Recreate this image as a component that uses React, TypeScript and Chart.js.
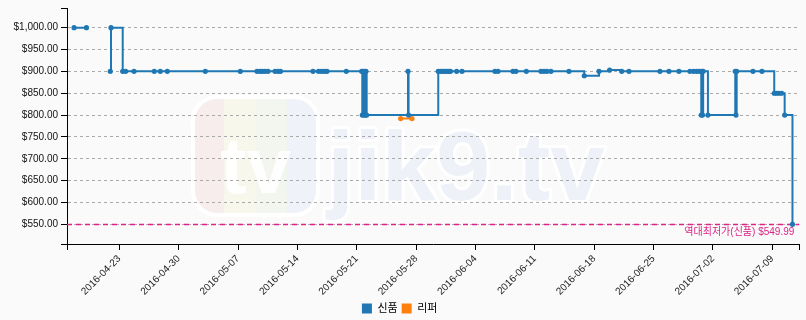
import React, { useEffect, useRef } from "react";
import { Chart, registerables } from "chart.js";

Chart.register(...registerables);

// ---- data ----
const seriesNames = ["신품", "리퍼"];

const newDates = [
  "2016-04-17 16:00", "2016-04-19 03:00", "2016-04-20 12:00",
  "2016-04-21 22:30", "2016-04-22 00:30", "2016-04-23 09:40", "2016-04-23 18:00",
  "2016-04-24 17:35", "2016-04-27 03:00", "2016-04-27 20:00", "2016-04-28 15:50",
  "2016-05-03 03:30", "2016-05-07 06:25", "2016-05-09 05:40", "2016-05-09 14:10",
  "2016-05-09 21:15", "2016-05-10 04:20", "2016-05-10 12:50", "2016-05-11 08:40",
  "2016-05-11 17:10", "2016-05-12 00:10", "2016-05-15 20:10", "2016-05-16 11:45",
  "2016-05-16 20:10", "2016-05-17 04:40", "2016-05-17 11:45", "2016-05-19 18:25",
  "2016-05-21 13:55", "2016-05-21 15:40", "2016-05-21 17:40", "2016-05-21 19:55",
  "2016-05-21 22:05", "2016-05-22 00:25", "2016-05-22 02:10", "2016-05-22 04:05",
  "2016-05-27 01:00", "2016-05-27 02:40", "2016-05-30 14:40", "2016-05-30 21:00",
  "2016-05-31 02:40", "2016-05-31 08:15", "2016-05-31 13:55", "2016-05-31 19:35",
  "2016-06-01 01:15", "2016-06-01 18:45", "2016-06-02 09:50", "2016-06-06 07:10",
  "2016-06-06 15:40", "2016-06-08 10:05", "2016-06-08 18:35", "2016-06-09 23:50",
  "2016-06-11 17:20", "2016-06-12 01:50", "2016-06-12 10:20", "2016-06-12 21:35",
  "2016-06-15 00:30", "2016-06-16 19:50", "2016-06-18 13:30", "2016-06-19 19:40",
  "2016-06-21 05:45", "2016-06-22 02:25", "2016-06-25 18:00", "2016-06-26 19:35",
  "2016-06-27 23:50", "2016-06-29 06:55", "2016-06-29 16:50", "2016-06-30 01:25",
  "2016-06-30 09:50", "2016-06-30 14:55", "2016-06-30 16:35", "2016-06-30 18:25",
  "2016-06-30 20:20", "2016-07-01 09:50", "2016-07-04 15:10", "2016-07-04 17:15",
  "2016-07-04 19:10", "2016-07-06 17:20", "2016-07-07 18:45", "2016-07-09 05:30",
  "2016-07-09 11:45", "2016-07-09 18:45", "2016-07-10 02:25", "2016-07-10 11:00",
  "2016-07-11 09:05",
];

const newPrices: (number | null)[] = [
  999.99, 999.99, null,
  899.99, 999.99, 899.99, 899.99,
  899.99, 899.99, 899.99, 899.99,
  899.99, 899.99, 899.99, 899.99,
  899.99, 899.99, 899.99, 899.99,
  899.99, 899.99, 899.99, 899.99,
  899.99, 899.99, 899.99, 899.99,
  899.99, 799.99, 899.99, 799.99,
  899.99, 799.99, 899.99, 799.99,
  899.99, 799.99, 899.99, 899.99,
  899.99, 899.99, 899.99, 899.99,
  899.99, 899.99, 899.99, 899.99,
  899.99, 899.99, 899.99, 899.99,
  899.99, 899.99, 899.99, 899.99,
  899.99, 889.99, 899.99, 902.99,
  899.99, 899.99, 899.99, 899.99,
  899.99, 899.99, 899.99, 899.99,
  899.99, 799.99, 899.99, 799.99,
  899.99, 799.99, 899.99, 799.99,
  899.99, 899.99, 899.99, 849.99,
  849.99, 849.99, 849.99, 799.99,
  549.99,
];

const refurbDates = ["2016-05-26 04:20", "2016-05-27 12:15"];
const refurbPrices = [791.99, 791.99];

const xTickLabels = [
  "2016-04-23", "2016-04-30", "2016-05-07", "2016-05-14", "2016-05-21", "2016-05-28",
  "2016-06-04", "2016-06-11", "2016-06-18", "2016-06-25", "2016-07-02", "2016-07-09",
];
const yTickValues = [550, 600, 650, 700, 750, 800, 850, 900, 950, 1000];

const X_MIN = "2016-04-16 20:00";
const X_MAX = "2016-07-12 04:25";
const Y_MIN = 505;
const Y_MAX = 1045;

const lowestPrice = 549.99;
const lowestLabel = "역대최저가(신품) $549.99";

// ---- styles ----
const BLUE = "#1f77b4";
const ORANGE = "#ff7f0e";
const PINK = "#dc2488";
const FONT = "'Liberation Sans', 'Noto Sans CJK KR', sans-serif";

function toDays(s: string): number {
  const [d, t = "00:00"] = s.split(" ");
  const [Y, M, D] = d.split("-").map(Number);
  const [h, m] = t.split(":").map(Number);
  return Date.UTC(Y, M - 1, D, h, m) / 86400000;
}
function dayLabel(v: number): string {
  return new Date(Math.round(v * 86400000)).toISOString().slice(0, 10);
}
function money(v: number): string {
  return "$" + v.toLocaleString("en-US", { minimumFractionDigits: 2, maximumFractionDigits: 2 });
}

const xMin = toDays(X_MIN);
const xMax = toDays(X_MAX);
const xTickDays = xTickLabels.map((l) => toDays(l));

const backgroundPlugin = {
  id: "bgWatermark",
  beforeDraw(chart: any) {
    const { ctx, width, height } = chart;
    ctx.save();
    ctx.fillStyle = "#fafafa";
    ctx.fillRect(0, 0, width, height);

    // very faint logo block
    const lx = 193, ly = 97, lw = 125, lh = 118, r = 24;
    ctx.beginPath();
    ctx.moveTo(lx + r, ly);
    ctx.arcTo(lx + lw, ly, lx + lw, ly + lh, r);
    ctx.arcTo(lx + lw, ly + lh, lx, ly + lh, r);
    ctx.arcTo(lx, ly + lh, lx, ly, r);
    ctx.arcTo(lx, ly, lx + lw, ly, r);
    ctx.closePath();
    ctx.save();
    ctx.clip();
    const stripes = ["#f7eded", "#f8f7ec", "#f2f6ee", "#eff2f8"];
    stripes.forEach((c, i) => {
      ctx.fillStyle = c;
      ctx.fillRect(lx + (i * lw) / 4, ly, lw / 4 + 1, lh);
    });
    ctx.restore();
    ctx.strokeStyle = "#ffffff";
    ctx.lineWidth = 4;
    ctx.stroke();
    ctx.fillStyle = "rgba(255,255,255,0.9)";
    ctx.font = "bold 80px " + FONT;
    ctx.textAlign = "center";
    ctx.textBaseline = "alphabetic";
    ctx.fillText("tv", lx + lw / 2, ly + lh - 22);

    // very faint site text
    ctx.font = "bold 98px " + FONT;
    ctx.textAlign = "left";
    ctx.lineJoin = "round";
    ctx.strokeStyle = "#ffffff";
    ctx.lineWidth = 6;
    ctx.strokeText("jik9.tv", 327, 200);
    ctx.fillStyle = "#eef2f8";
    ctx.fillText("jik9.tv", 327, 200);
    ctx.restore();
  },
};

const lowestLinePlugin = {
  id: "lowestLine",
  beforeDatasetsDraw(chart: any) {
    const { ctx, chartArea, scales } = chart;
    const y = Math.round(scales.y.getPixelForValue(lowestPrice)) + 0.5;
    ctx.save();
    ctx.strokeStyle = PINK;
    ctx.lineWidth = 1.5;
    ctx.setLineDash([5, 4]);
    ctx.beginPath();
    ctx.moveTo(chartArea.left, y);
    ctx.lineTo(chartArea.right, y);
    ctx.stroke();
    ctx.setLineDash([]);
    ctx.fillStyle = PINK;
    ctx.font = "10px " + FONT;
    ctx.textAlign = "right";
    ctx.textBaseline = "top";
    ctx.fillText(lowestLabel, chartArea.right - 5, y + 3);
    ctx.restore();
  },
};

export default function App() {
  const ref = useRef<HTMLCanvasElement>(null);

  useEffect(() => {
    const canvas = ref.current;
    if (!canvas) return;

    const newData = newDates.map((d, i) => ({ x: toDays(d), y: newPrices[i] }));
    const refurbData = refurbDates.map((d, i) => ({ x: toDays(d), y: refurbPrices[i] }));

    const chart = new Chart(canvas, {
      type: "line",
      data: {
        datasets: [
          {
            label: seriesNames[0],
            data: newData as any,
            borderColor: BLUE,
            backgroundColor: BLUE,
            borderWidth: 2,
            stepped: "before",
            pointRadius: 2.6,
            pointBorderWidth: 0,
            spanGaps: false,
            fill: false,
          },
          {
            label: seriesNames[1],
            data: refurbData as any,
            borderColor: ORANGE,
            backgroundColor: ORANGE,
            borderWidth: 2,
            stepped: "before",
            pointRadius: 2.6,
            pointBorderWidth: 0,
            fill: false,
          },
        ],
      },
      options: {
        responsive: false,
        animation: false,
        devicePixelRatio: 1,
        layout: { padding: { top: 8, right: 6.7, left: 0, bottom: -4 } },
        plugins: {
          tooltip: { enabled: false },
          legend: {
            position: "bottom",
            labels: {
              boxWidth: 10,
              boxHeight: 10,
              padding: 4,
              color: "#000",
              font: { size: 11, family: FONT },
              generateLabels: (c: any) =>
                (Chart.defaults.plugins.legend.labels as any)
                  .generateLabels(c)
                  .map((l: any) => ({ ...l, lineWidth: 0 })),
            },
          },
        },
        scales: {
          x: {
            type: "linear",
            min: xMin,
            max: xMax,
            afterBuildTicks: (scale: any) => {
              scale.ticks = [xMin, ...xTickDays, xMax].map((v) => ({ value: v }));
            },
            afterFit: (scale: any) => {
              scale.height = 55;
              scale.paddingLeft = 0;
              scale.paddingRight = 0;
            },
            ticks: {
              autoSkip: false,
              minRotation: 45,
              maxRotation: 45,
              padding: 3,
              color: "#222",
              font: { size: 10, family: FONT },
              callback: (v: any) =>
                xTickDays.some((d) => Math.abs(d - Number(v)) < 1e-6) ? dayLabel(Number(v)) : "",
            },
            grid: {
              drawOnChartArea: false,
              drawTicks: true,
              tickLength: 6,
              tickColor: "#000",
              color: "#000",
              lineWidth: 1,
            },
            border: { display: true, color: "#000", width: 1 },
          },
          y: {
            type: "linear",
            min: Y_MIN,
            max: Y_MAX,
            afterBuildTicks: (scale: any) => {
              scale.ticks = [Y_MIN, ...yTickValues, Y_MAX].map((v) => ({ value: v }));
            },
            afterFit: (scale: any) => {
              scale.width = 67;
              scale.paddingTop = 0;
              scale.paddingBottom = 0;
            },
            ticks: {
              padding: 3,
              color: "#111",
              font: { size: 10, family: FONT },
              callback: (v: any) => (v === Y_MIN || v === Y_MAX ? "" : money(Number(v))),
            },
            grid: {
              drawOnChartArea: true,
              drawTicks: true,
              tickLength: 6,
              tickColor: "#000",
              lineWidth: 1,
              color: (c: any) =>
                c.tick && (c.tick.value === Y_MIN || c.tick.value === Y_MAX)
                  ? "rgba(0,0,0,0)"
                  : "#aaaaaa",
            },
            border: { display: true, color: "#000", width: 1, dash: [3, 3] },
          },
        },
      },
      plugins: [backgroundPlugin, lowestLinePlugin],
    } as any);

    return () => chart.destroy();
  }, []);

  return (
    <div style={{ position: "fixed", left: 0, top: 0, width: 806, height: 320, background: "#fafafa" }}>
      <canvas ref={ref} width={806} height={320} style={{ display: "block", width: 806, height: 320 }} />
    </div>
  );
}
